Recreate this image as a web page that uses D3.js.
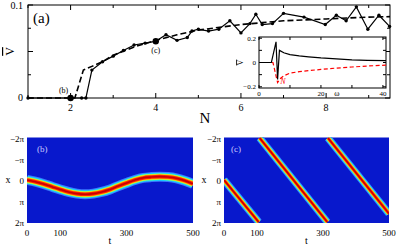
<!DOCTYPE html>
<html>
<head>
<meta charset="utf-8">
<title>V bar vs N</title>
<script src="https://d3js.org/d3.v7.min.js"></script>
<style>
  body { margin: 0; background: #fff; }
  text { font-family: "Liberation Serif", "DejaVu Serif", serif; }
</style>
</head>
<body>
<div id="chart"></div>
<script>
// panel (a): mean velocity vs N
var mainN = [1, 2, 2.26, 2.36, 2.5, 2.75, 3.0, 3.24, 3.49, 3.75, 4.0, 4.24, 4.5, 4.74, 4.85, 5.0, 5.24, 5.48, 5.74, 6.0, 6.21, 6.35, 6.5, 6.74, 7.0, 7.48, 7.98, 8.24, 8.47, 8.71, 8.98, 9.24, 9.49]
var mainV = [0, 0, 0, 0, 0.030, 0.039, 0.045, 0.051, 0.057, 0.059, 0.061, 0.068, 0.062, 0.065, 0.072, 0.074, 0.072, 0.074, 0.083, 0.070, 0.080, 0.090, 0.079, 0.080, 0.091, 0.087, 0.079, 0.089, 0.083, 0.098, 0.074, 0.089, 0.077]
var dashN = [1, 2.1, 2.3, 2.5, 2.75, 3, 3.5, 4, 4.5, 5, 5.5, 6, 6.5, 7, 7.5, 8, 8.5, 9, 9.5]
var dashV = [0, 0, 0.030, 0.034, 0.039, 0.046, 0.055, 0.062, 0.068, 0.073, 0.076, 0.079, 0.081, 0.083, 0.084, 0.085, 0.086, 0.087, 0.0875]
var markN = [2, 4]
var markV = [0, 0.061]
var markLbl = ["(b)", "(c)"]

// inset: V bar vs omega
var insBlackW = [0, 4, 5.5, 6.0, 6.6, 8, 10, 13, 16, 20, 25, 30, 35, 41]
var insBlackV = [0, 0, 0.17, -0.14, 0.10, 0.08, 0.065, 0.055, 0.047, 0.038, 0.030, 0.022, 0.018, 0.015]
var insRedW = [0, 4.5, 6, 7, 8, 10, 13, 16, 20, 25, 30, 35, 41]
var insRedV = [0, 0, -0.165, -0.13, -0.11, -0.088, -0.075, -0.067, -0.057, -0.046, -0.037, -0.029, -0.022]

// panel (b): soliton centre position (in units of pi) vs t
var bT = [0, 25, 50, 75, 100, 125, 150, 175, 200, 225, 250, 275, 300, 325, 350, 375, 400, 425, 450, 475, 500]
var bX = [0, 0.08, 0.19, 0.32, 0.45, 0.57, 0.65, 0.68, 0.65, 0.57, 0.45, 0.29, 0.14, 0.0, -0.1, -0.14, -0.16, -0.14, -0.08, 0.03, 0.18]

// panel (c): travelling stripes, start/end (t, x in units of pi)
var cT0 = [0, 108, 315]
var cX0 = [0, -2, -2]
var cT1 = [105, 313, 500]
var cX1 = [2, 2, 1.6]

var piTicks = [-2, -1, 0, 1, 2]
var piLbl = ["\u22122\u03c0", "\u2212\u03c0", "0", "\u03c0", "2\u03c0"]
var tTicks = [0, 100, 300, 500]

var W = 416, H = 245
var svg = d3.select("#chart").append("svg").attr("width", W).attr("height", H)

// ---------- panel (a) ----------
var x = d3.scaleLinear().domain([1, 9.5]).range([28, 390])
var y = d3.scaleLinear().domain([0, 0.1]).range([98, 5])

var gA = svg.append("g")
gA.append("rect").attr("x", x(1)).attr("y", y(0.1)).attr("width", x(9.5) - x(1)).attr("height", y(0) - y(0.1))
  .attr("fill", "none").attr("stroke", "#000").attr("stroke-width", 1)

// ticks inward
d3.range(1, 10).forEach(function (n) {
  var len = (n % 2 == 0) ? 5 : 3
  gA.append("line").attr("x1", x(n)).attr("x2", x(n)).attr("y1", y(0)).attr("y2", y(0) - len).attr("stroke", "#000")
  gA.append("line").attr("x1", x(n)).attr("x2", x(n)).attr("y1", y(0.1)).attr("y2", y(0.1) + len).attr("stroke", "#000")
})
;[0, 0.025, 0.05, 0.075, 0.1].forEach(function (v, i) {
  var len = (i % 2 == 0) ? 5 : 3
  gA.append("line").attr("x1", x(1)).attr("x2", x(1) + len).attr("y1", y(v)).attr("y2", y(v)).attr("stroke", "#000")
  gA.append("line").attr("x1", x(9.5)).attr("x2", x(9.5) - len).attr("y1", y(v)).attr("y2", y(v)).attr("stroke", "#000")
})
;[2, 4, 6, 8].forEach(function (n) {
  gA.append("text").attr("x", x(n)).attr("y", 111).attr("text-anchor", "middle").attr("font-size", 10).text(n)
})
gA.append("text").attr("x", 23).attr("y", y(0.1) + 4).attr("text-anchor", "end").attr("font-size", 10).text("0.1")
gA.append("text").attr("x", 23).attr("y", y(0) + 3).attr("text-anchor", "end").attr("font-size", 10).text("0")
gA.append("text").attr("x", 205).attr("y", 123).attr("text-anchor", "middle").attr("font-size", 15).text("N")
gA.append("text").attr("transform", "translate(14," + y(0.05) + ") rotate(-90)")
  .attr("text-anchor", "middle").attr("font-size", 12).attr("text-decoration", "overline").text("V")
gA.append("text").attr("x", 33).attr("y", 23).attr("font-size", 15).text("(a)")

var dashLine = d3.line().x(function (d) { return x(d[0]) }).y(function (d) { return y(d[1]) })
gA.append("path").datum(d3.zip(dashN, dashV)).attr("d", dashLine)
  .attr("fill", "none").attr("stroke", "#000").attr("stroke-width", 1.6).attr("stroke-dasharray", "6,3")
gA.append("path").datum(d3.zip(mainN, mainV)).attr("d", dashLine)
  .attr("fill", "none").attr("stroke", "#000").attr("stroke-width", 1.2)
gA.selectAll(".pt").data(d3.zip(mainN, mainV)).enter().append("circle")
  .attr("cx", function (d) { return x(d[0]) }).attr("cy", function (d) { return y(d[1]) })
  .attr("r", 1.7).attr("fill", "#000")
gA.selectAll(".mk").data(d3.zip(markN, markV)).enter().append("circle")
  .attr("cx", function (d) { return x(d[0]) }).attr("cy", function (d) { return y(d[1]) })
  .attr("r", 3.2).attr("fill", "#000")
gA.append("text").attr("x", x(markN[0]) - 7).attr("y", y(markV[0]) - 5).attr("text-anchor", "middle").attr("font-size", 8).text(markLbl[0])
gA.append("text").attr("x", x(markN[1])).attr("y", y(markV[1]) + 12).attr("text-anchor", "middle").attr("font-size", 8).text(markLbl[1])

// ---------- inset ----------
var xi = d3.scaleLinear().domain([0, 41]).range([259, 386])
var yi = d3.scaleLinear().domain([-0.21, 0.21]).range([88, 37])
var gI = svg.append("g")
gI.append("rect").attr("x", xi(0)).attr("y", yi(0.21)).attr("width", xi(41) - xi(0)).attr("height", yi(-0.21) - yi(0.21))
  .attr("fill", "#fff").attr("stroke", "#000").attr("stroke-width", 1)
;[0, 10, 20, 30, 40].forEach(function (w) {
  gI.append("line").attr("x1", xi(w)).attr("x2", xi(w)).attr("y1", yi(-0.21)).attr("y2", yi(-0.21) - 3).attr("stroke", "#000")
  gI.append("line").attr("x1", xi(w)).attr("x2", xi(w)).attr("y1", yi(0.21)).attr("y2", yi(0.21) + 3).attr("stroke", "#000")
})
;[-0.2, -0.1, 0, 0.1, 0.2].forEach(function (v) {
  gI.append("line").attr("x1", xi(0)).attr("x2", xi(0) + 3).attr("y1", yi(v)).attr("y2", yi(v)).attr("stroke", "#000")
  gI.append("line").attr("x1", xi(41)).attr("x2", xi(41) - 3).attr("y1", yi(v)).attr("y2", yi(v)).attr("stroke", "#000")
})
;[0.2, 0, -0.2].forEach(function (v) {
  gI.append("text").attr("x", 256).attr("y", yi(v) + 2.5).attr("text-anchor", "end").attr("font-size", 7).text(v == 0 ? "0" : d3.format(".1f")(v).replace("-", "\u2212"))
})
;[0, 20, 40].forEach(function (w) {
  gI.append("text").attr("x", xi(w)).attr("y", 96).attr("text-anchor", "middle").attr("font-size", 7).text(w)
})
gI.append("text").attr("x", 337).attr("y", 96).attr("text-anchor", "middle").attr("font-size", 8).text("\u03c9")
gI.append("text").attr("transform", "translate(243," + yi(0) + ") rotate(-90)")
  .attr("text-anchor", "middle").attr("font-size", 8).attr("text-decoration", "overline").text("V")
var insLine = d3.line().x(function (d) { return xi(d[0]) }).y(function (d) { return yi(d[1]) })
gI.append("path").datum(d3.zip(insRedW, insRedV)).attr("d", insLine)
  .attr("fill", "none").attr("stroke", "#f00").attr("stroke-width", 1.2).attr("stroke-dasharray", "4,2.5")
gI.append("path").datum(d3.zip(insBlackW, insBlackV)).attr("d", insLine)
  .attr("fill", "none").attr("stroke", "#000").attr("stroke-width", 1.2)
gI.append("text").attr("x", 283).attr("y", 84).attr("text-anchor", "middle").attr("font-size", 8)
  .attr("font-style", "italic").attr("fill", "#f00").text("N")

// ---------- heatmaps ----------
var bgBlue = "#0818cc"
var jetLayers = [
  { w: 1.0, c: "#3a78ff" },
  { w: 0.8, c: "#12d6ff" },
  { w: 0.62, c: "#a8ff50" },
  { w: 0.5, c: "#ffc000" },
  { w: 0.36, c: "#ff2000" },
  { w: 0.16, c: "#c80000" }
]

function heatPanel(x0, x1, id, label, yLblX) {
  var tx = d3.scaleLinear().domain([0, 500]).range([x0, x1])
  var py = d3.scaleLinear().domain([-2, 2]).range([138, 222])
  var g = svg.append("g")
  g.append("clipPath").attr("id", id).append("rect")
    .attr("x", x0).attr("y", 137.5).attr("width", x1 - x0).attr("height", 85.5)
  g.append("rect").attr("x", x0).attr("y", 137.5).attr("width", x1 - x0).attr("height", 85.5).attr("fill", bgBlue)
  piTicks.forEach(function (p, i) {
    g.append("text").attr("x", x0 - 3).attr("y", py(p) + 3.5).attr("text-anchor", "end").attr("font-size", 9).text(piLbl[i])
  })
  tTicks.forEach(function (t) {
    g.append("text").attr("x", tx(t)).attr("y", 236).attr("text-anchor", "middle").attr("font-size", 9).text(t)
  })
  g.append("text").attr("x", (x0 + x1) / 2).attr("y", 244).attr("text-anchor", "middle").attr("font-size", 10).text("t")
  g.append("text").attr("x", yLblX).attr("y", py(0) + 3).attr("text-anchor", "middle").attr("font-size", 10).text("x")
  var body = g.append("g").attr("clip-path", "url(#" + id + ")")
  return { g: g, body: body, tx: tx, py: py, lbl: label, x0: x0 }
}

// (b)
var pb = heatPanel(27, 193, "clipB", "(b)", 8)
var bLine = d3.line().curve(d3.curveCatmullRom).x(function (d) { return pb.tx(d[0]) }).y(function (d) { return pb.py(d[1]) })
jetLayers.forEach(function (L) {
  pb.body.append("path").datum(d3.zip(bT, bX)).attr("d", bLine)
    .attr("fill", "none").attr("stroke", L.c).attr("stroke-width", 10 * L.w)
})
pb.g.append("text").attr("x", 37).attr("y", 152).attr("font-size", 9).attr("fill", "#c8c8ff").text("(b)")

// (c)
var pc = heatPanel(224, 389, "clipC", "(c)", 204)
var cLine = d3.line().x(function (d) { return pc.tx(d[0]) }).y(function (d) { return pc.py(d[1]) })
var cSegs = d3.range(cT0.length).map(function (i) { return [[cT0[i], cX0[i]], [cT1[i], cX1[i]]] })
jetLayers.forEach(function (L) {
  pc.body.selectAll(null).data(cSegs).enter().append("path").attr("d", cLine)
    .attr("fill", "none").attr("stroke", L.c).attr("stroke-width", 7.5 * L.w)
})
pc.g.append("text").attr("x", 231).attr("y", 152).attr("font-size", 9).attr("fill", "#c8c8ff").text("(c)")
</script>
</body>
</html>
